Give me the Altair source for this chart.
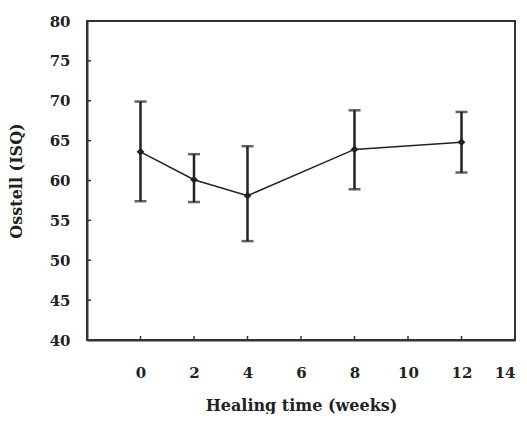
import altair as alt
import pandas as pd

weeks = [0, 2, 4, 8, 12]
isq_mean = [63.6, 60.1, 58.1, 63.9, 64.8]
isq_upper = [69.9, 63.3, 64.3, 68.8, 68.6]
isq_lower = [57.4, 57.3, 52.4, 58.9, 61.0]
x_ticks = [0, 2, 4, 6, 8, 10, 12, 14]
y_ticks = [40, 45, 50, 55, 60, 65, 70, 75, 80]

df = pd.DataFrame({"week": weeks, "mean": isq_mean, "upper": isq_upper, "lower": isq_lower})
xt = pd.DataFrame({"xt": x_ticks})
yt = pd.DataFrame({"yt": y_ticks})

FONT = "DejaVu Serif"
INK = "#222222"
FRAME = "#333333"
W, H = 428, 319
TICK = 4
xs = alt.Scale(domain=[-2, 14], nice=False, zero=False)
ys = alt.Scale(domain=[40, 80], nice=False, zero=False)

common = dict(format="d", ticks=False, tickSize=0, grid=False, labelOverlap=False,
              domainColor=FRAME, domainWidth=2,
              labelFont=FONT, labelFontSize=15, labelFontWeight="bold", labelColor=INK,
              titleFont=FONT, titleFontSize=16, titleFontWeight="bold", titleColor=INK)

xaxis = alt.Axis(values=x_ticks, tickCount=8, title="Healing time (weeks)", labelPadding=25,
                 titlePadding=17, orient="bottom", **common)
yaxis = alt.Axis(values=y_ticks, tickCount=9, title="Osstell (ISQ)", labelPadding=17,
                 titlePadding=25, orient="left", **common)


def X(field):
    return alt.X(field, scale=xs, axis=xaxis)


def Y(field):
    return alt.Y(field, scale=ys, axis=yaxis)


base = alt.Chart(df)

line = base.mark_line(color=INK, strokeWidth=1.5).encode(x=X("week:Q"), y=Y("mean:Q"))
bars = base.mark_rule(color=INK, strokeWidth=2.5).encode(
    x=X("week:Q"), y=Y("lower:Q"), y2="upper:Q"
)
cap_hi = base.mark_tick(color=INK, orient="horizontal", size=12, thickness=2.5).encode(
    x=X("week:Q"), y=Y("upper:Q")
)
cap_lo = base.mark_tick(color=INK, orient="horizontal", size=12, thickness=2.5).encode(
    x=X("week:Q"), y=Y("lower:Q")
)
pts = base.mark_point(color=INK, filled=True, opacity=1, shape="diamond", size=60).encode(
    x=X("week:Q"), y=Y("mean:Q")
)

# inward tick marks on the bottom and left axes
xtick_marks = alt.Chart(xt).mark_rule(color=FRAME, strokeWidth=1.5).encode(
    x=X("xt:Q"), y=alt.value(H), y2=alt.value(H - TICK)
)
ytick_marks = alt.Chart(yt).mark_rule(color=FRAME, strokeWidth=1.5).encode(
    y=Y("yt:Q"), x=alt.value(0), x2=alt.value(TICK)
)

chart = alt.layer(line, bars, cap_hi, cap_lo, pts, xtick_marks, ytick_marks).properties(
    width=W, height=H,
    autosize=alt.AutoSizeParams(type="none"),
    padding={"left": 79, "top": 13, "right": 4, "bottom": 74},
    background="white",
).configure_view(stroke=FRAME, strokeWidth=2)

chart.save("out.html", embed_options={"renderer": "svg", "actions": False})
